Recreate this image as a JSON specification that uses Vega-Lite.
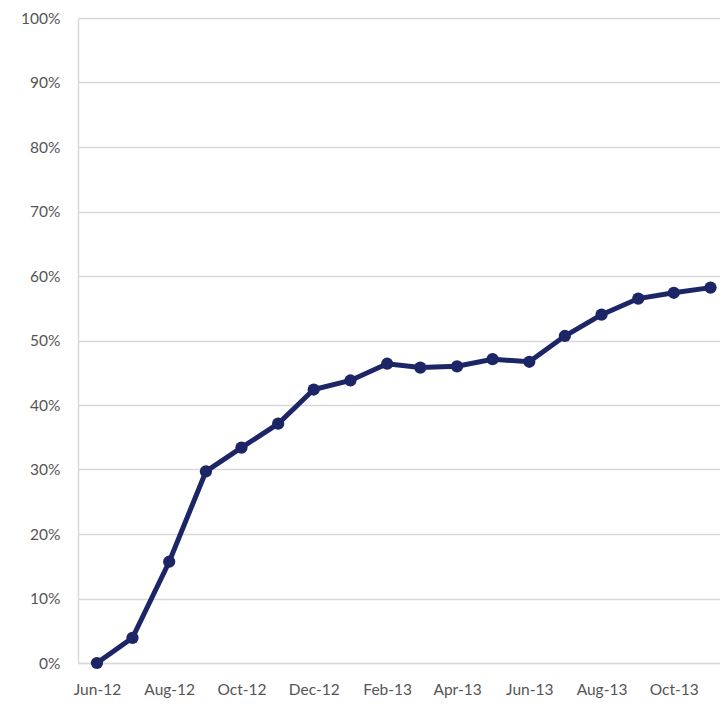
{
  "$schema": "https://vega.github.io/schema/vega-lite/v6.json",
  "autosize": {"type": "none"},
  "padding": {"left": 78, "top": 18, "right": 0, "bottom": 40},
  "width": 642,
  "height": 645,
  "background": "white",
  "config": {"view": {"stroke": null}, "font": "Lato"},
  "data": {
    "values": [
      {"month": "2012-06-01", "value": 0.0},
      {"month": "2012-07-01", "value": 0.039},
      {"month": "2012-08-01", "value": 0.157},
      {"month": "2012-09-01", "value": 0.297},
      {"month": "2012-10-01", "value": 0.334},
      {"month": "2012-11-01", "value": 0.371},
      {"month": "2012-12-01", "value": 0.424},
      {"month": "2013-01-01", "value": 0.438},
      {"month": "2013-02-01", "value": 0.464},
      {"month": "2013-03-01", "value": 0.458},
      {"month": "2013-04-01", "value": 0.460},
      {"month": "2013-05-01", "value": 0.471},
      {"month": "2013-06-01", "value": 0.467},
      {"month": "2013-07-01", "value": 0.507},
      {"month": "2013-08-01", "value": 0.540},
      {"month": "2013-09-01", "value": 0.565},
      {"month": "2013-10-01", "value": 0.574},
      {"month": "2013-11-01", "value": 0.582}
    ]
  },
  "encoding": {
    "x": {
      "field": "month",
      "type": "temporal",
      "scale": {"domain": ["2012-05-16", "2013-11-09"]},
      "axis": {
        "title": null,
        "values": ["2012-06-01", "2012-08-01", "2012-10-01", "2012-12-01", "2013-02-01", "2013-04-01", "2013-06-01", "2013-08-01", "2013-10-01"],
        "format": "%b-%y",
        "grid": false,
        "ticks": false,
        "domain": true,
        "domainColor": "#d9d9d9",
        "domainWidth": 1.5,
        "labelPadding": 19,
        "labelFontSize": 15.5,
        "labelColor": "#555555",
        "labelFlush": false
      }
    },
    "y": {
      "field": "value",
      "type": "quantitative",
      "scale": {"domain": [0, 1], "nice": false},
      "axis": {
        "title": null,
        "format": ".0%",
        "values": [0, 0.1, 0.2, 0.3, 0.4, 0.5, 0.6, 0.7, 0.8, 0.9, 1.0],
        "ticks": false,
        "domain": true,
        "domainColor": "#d9d9d9",
        "domainWidth": 1.5,
        "grid": true,
        "gridColor": "#d9d9d9",
        "gridWidth": 1.5,
        "labelPadding": 18,
        "labelFontSize": 15.5,
        "labelColor": "#555555"
      }
    }
  },
  "layer": [
    {"mark": {"type": "line", "color": "#1c2566", "strokeWidth": 5}},
    {"mark": {"type": "point", "filled": true, "opacity": 1, "color": "#1c2566", "size": 150}}
  ]
}
